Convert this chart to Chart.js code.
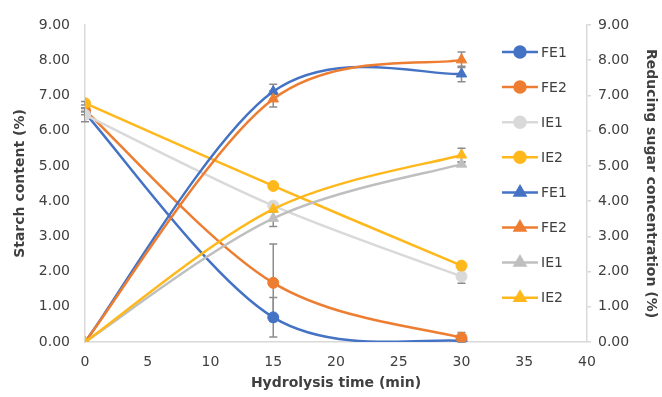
<!DOCTYPE html>
<html>
<head>
<meta charset="utf-8">
<script src="https://cdn.jsdelivr.net/npm/chart.js@4.4.1/dist/chart.umd.min.js"></script>
<style>
  html, body { margin: 0; padding: 0; background: #fff; }
  #wrap { width: 662px; height: 397px; position: relative; }
</style>
</head>
<body>
<div id="wrap"><canvas id="chart"></canvas></div>
<script>
// --- data ---
const times = [0, 15, 30];

// starch content (%), left axis, circles
const starchFE1 = [6.50, 0.70, 0.03];
const starchFE2 = [6.58, 1.68, 0.12];
const starchIE1 = [6.45, 3.87, 1.86];
const starchIE2 = [6.78, 4.43, 2.17];

// reducing sugar (%), right axis, triangles
const sugarFE1 = [0.00, 7.11, 7.61];
const sugarFE2 = [0.00, 6.90, 8.01];
const sugarIE1 = [0.00, 3.51, 5.05];
const sugarIE2 = [0.00, 3.77, 5.31];

// error bars (+/-)
const starchFE1Err = [0.05, 0.56, 0.03];
const starchFE2Err = [0.05, 1.10, 0.15];
const starchIE1Err = [0.20, 0.10, 0.19];
const starchIE2Err = [0.05, 0.08, 0.06];
const sugarFE1Err = [0.00, 0.21, 0.22];
const sugarFE2Err = [0.00, 0.23, 0.22];
const sugarIE1Err = [0.00, 0.23, 0.05];
const sugarIE2Err = [0.00, 0.08, 0.19];

const legendLabels = ['FE1', 'FE2', 'IE1', 'IE2', 'FE1', 'FE2', 'IE1', 'IE2'];
const xTicks = [0, 5, 10, 15, 20, 25, 30, 35, 40];

const BLUE = '#4472C4', ORANGE = '#ED7D31', LGREY = '#D9D9D9', GREY = '#BFBFBF', GOLD = '#FFB81C';
const TXT = '#404040';
const FONT = 'DejaVu Sans';

function series(label, vals, errs, color, style, axis, idx) {
  return {
    label: label,
    data: times.map((t, i) => ({ x: t, y: vals[i] })),
    errors: errs,
    yAxisID: axis,
    borderColor: color,
    backgroundColor: color,
    pointBackgroundColor: color,
    pointBorderColor: color,
    pointStyle: style,
    pointRadius: style === 'triangle' ? 6 : 5.5,
    pointBorderWidth: 1,
    borderWidth: 2.5,
    tension: 0.4,
    order: 20 - idx
  };
}

const datasets = [
  series('FE1', starchFE1, starchFE1Err, BLUE, 'circle', 'y', 0),
  series('FE2', starchFE2, starchFE2Err, ORANGE, 'circle', 'y', 1),
  series('IE1', starchIE1, starchIE1Err, LGREY, 'circle', 'y', 2),
  series('IE2', starchIE2, starchIE2Err, GOLD, 'circle', 'y', 3),
  series('FE1', sugarFE1, sugarFE1Err, BLUE, 'triangle', 'y2', 4),
  series('FE2', sugarFE2, sugarFE2Err, ORANGE, 'triangle', 'y2', 5),
  series('IE1', sugarIE1, sugarIE1Err, GREY, 'triangle', 'y2', 6),
  series('IE2', sugarIE2, sugarIE2Err, GOLD, 'triangle', 'y2', 7)
];

// spreadsheet-style smoothing: control points at 1/6 of the neighbour chord
const smoothLines = {
  id: 'smoothLines',
  beforeDatasetDraw(chart, args) {
    const line = args.meta.dataset;
    const pts = args.meta.data;
    if (!line || pts.length < 2) return;
    line.updateControlPoints(chart.chartArea, 'x');
    const n = pts.length;
    for (let i = 0; i < n; i++) {
      const p = pts[i];
      const prev = pts[Math.max(0, i - 1)];
      const next = pts[Math.min(n - 1, i + 1)];
      const dx = (next.x - prev.x) / 6, dy = (next.y - prev.y) / 6;
      p.cp1x = p.x - dx; p.cp1y = p.y - dy;
      p.cp2x = p.x + dx; p.cp2y = p.y + dy;
    }
    line._pointsUpdated = true;
    delete line._path;
  }
};

// error bars, drawn under the markers
const errorBars = {
  id: 'errorBars',
  beforeDatasetsDraw(chart) {
    const ctx = chart.ctx;
    const xs = chart.scales.x;
    ctx.save();
    ctx.strokeStyle = '#8C8C8C';
    ctx.lineWidth = 1.5;
    chart.data.datasets.forEach(ds => {
      const ys = chart.scales[ds.yAxisID];
      ds.data.forEach((p, i) => {
        const e = ds.errors[i];
        if (!e) return;
        const px = xs.getPixelForValue(p.x);
        const top = ys.getPixelForValue(p.y + e);
        const bot = ys.getPixelForValue(Math.max(0, p.y - e));
        ctx.beginPath();
        ctx.moveTo(px, top); ctx.lineTo(px, bot);
        ctx.moveTo(px - 4, top); ctx.lineTo(px + 4, top);
        ctx.moveTo(px - 4, bot); ctx.lineTo(px + 4, bot);
        ctx.stroke();
      });
    });
    ctx.restore();
  }
};

// legend inside the plot, line + marker + text
const lineLegend = {
  id: 'lineLegend',
  afterDraw(chart) {
    const ctx = chart.ctx;
    const area = chart.chartArea;
    const x0 = area.right - 85;
    const y0 = area.top + 27;
    const step = 35.1;
    ctx.save();
    chart.data.datasets.forEach((ds, i) => {
      const y = y0 + i * step;
      ctx.strokeStyle = ds.borderColor;
      ctx.lineWidth = 2.5;
      ctx.beginPath();
      ctx.moveTo(x0, y); ctx.lineTo(x0 + 36, y);
      ctx.stroke();
      ctx.fillStyle = ds.backgroundColor;
      Chart.helpers.drawPoint(ctx, { pointStyle: ds.pointStyle, radius: ds.pointRadius, rotation: 0, borderWidth: 1 }, x0 + 18, y);
      ctx.fillStyle = TXT;
      ctx.font = '14px "' + FONT + '"';
      ctx.textBaseline = 'middle';
      ctx.textAlign = 'left';
      ctx.fillText(legendLabels[i], x0 + 39, y + 1);
    });
    ctx.restore();
  }
};

const tickFont = { family: FONT, size: 14 };
const titleFont = { family: FONT, size: 14, weight: 'bold' };

new Chart(document.getElementById('chart'), {
  type: 'line',
  data: { datasets: datasets },
  plugins: [smoothLines, errorBars, lineLegend],
  options: {
    responsive: true,
    maintainAspectRatio: false,
    animation: false,
    layout: { padding: { top: 25, left: 0, right: 0, bottom: 0 } },
    plugins: { legend: { display: false }, tooltip: { enabled: false } },
    scales: {
      x: {
        type: 'linear',
        min: 0, max: 40,
        afterBuildTicks: s => { s.ticks = xTicks.map(v => ({ value: v })); },
        afterFit: s => { s.height = 55; },
        grid: { display: false, drawTicks: false },
        border: { display: true, color: LGREY, width: 1.5 },
        ticks: { font: tickFont, color: TXT, padding: 12, maxRotation: 0 },
        title: { display: true, text: 'Hydrolysis time (min)', font: titleFont, color: TXT, padding: { top: 0, bottom: 5 } }
      },
      y: {
        position: 'left',
        min: 0, max: 9,
        afterFit: s => { s.width = 85; },
        grid: { display: false, drawTicks: false },
        border: { display: true, color: LGREY, width: 1.5 },
        ticks: { stepSize: 1, font: tickFont, color: TXT, padding: 15, callback: v => v.toFixed(2) },
        title: { display: true, text: 'Starch content (%)', font: titleFont, color: TXT, padding: { top: 12, bottom: 0 } }
      },
      y2: {
        position: 'right',
        min: 0, max: 9,
        afterFit: s => { s.width = 75; },
        grid: { display: true, drawOnChartArea: false, drawTicks: true, tickLength: 4, color: LGREY, lineWidth: 1.5 },
        border: { display: true, color: LGREY, width: 1.5 },
        ticks: { stepSize: 1, font: tickFont, color: TXT, padding: 7, callback: v => v.toFixed(2) },
        title: { display: true, text: 'Reducing sugar concentration (%)', font: titleFont, color: TXT, padding: { top: 3, bottom: 0 } }
      }
    }
  }
});
</script>
</body>
</html>
